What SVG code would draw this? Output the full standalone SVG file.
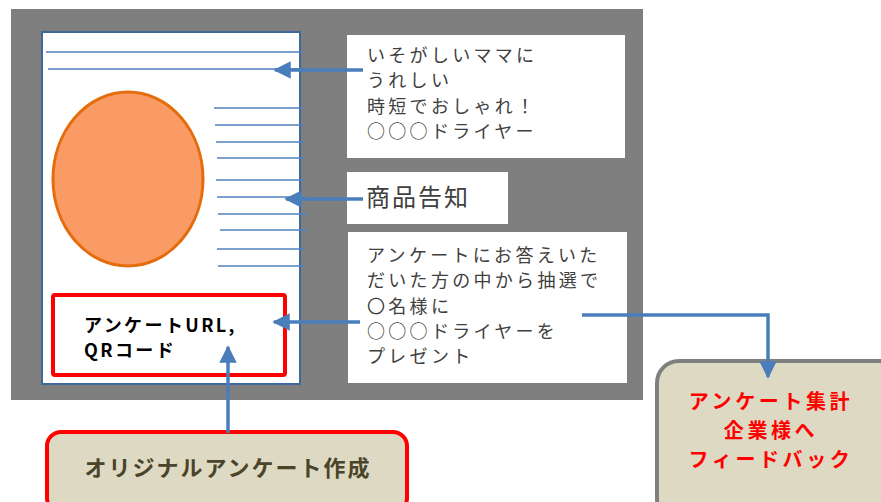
<svg xmlns="http://www.w3.org/2000/svg" width="881" height="502" viewBox="0 0 881 502">
<defs>
<style>
.jp{font-family:"Noto Sans CJK JP","Noto Sans",sans-serif}
.body{font-size:18px;fill:#404040;letter-spacing:3.3px}
.pl{stroke:#4F81BD;stroke-width:1.5}
.conn{stroke:#4A7EBB;stroke-width:3.5;fill:none}
.box{fill:#FFFFFF}
</style>
<marker id="ah" viewBox="0 0 10 10" refX="9" refY="5" markerWidth="5" markerHeight="5" markerUnits="strokeWidth" orient="auto">
<path d="M0,0 L10,5 L0,10 Z" fill="#4A7EBB"/>
</marker>
</defs>
<rect id="background" x="11" y="9" width="632" height="391" fill="#7F7F7F"/>
<g id="page">
<rect x="42" y="32" width="258" height="352" fill="#FFFFFF" stroke="#41689C" stroke-width="2"/>
<line class="pl" x1="46" y1="52" x2="303" y2="52"/>
<line class="pl" x1="48" y1="69" x2="303" y2="69"/>
<line class="pl" x1="214" y1="108" x2="303" y2="108"/>
<line class="pl" x1="215" y1="125" x2="303" y2="125"/>
<line class="pl" x1="216" y1="142" x2="305" y2="142"/>
<line class="pl" x1="217" y1="158" x2="305" y2="158"/>
<line class="pl" x1="216" y1="180" x2="305" y2="180"/>
<line class="pl" x1="217" y1="197" x2="305" y2="197"/>
<line class="pl" x1="218" y1="214" x2="307" y2="214"/>
<line class="pl" x1="220" y1="230" x2="307" y2="230"/>
<line class="pl" x1="217" y1="249" x2="305" y2="249"/>
<line class="pl" x1="218" y1="266" x2="305" y2="266"/>
</g>
<g id="image">
<ellipse cx="128" cy="179" rx="75" ry="87" fill="#FA9A65" stroke="#E46C0A" stroke-width="3"/>
</g>
<g id="url-box">
<rect x="53" y="295" width="232" height="80" fill="#FFFFFF" stroke="#FF0000" stroke-width="4" rx="2"/>
<text class="jp" font-size="18" font-weight="bold" fill="#000000" letter-spacing="2.4"><tspan x="84" y="332">アンケートURL,</tspan><tspan x="84" y="357">QRコード</tspan></text>
</g>
<g id="catch-box">
<rect class="box" x="347" y="35" width="278" height="123"/>
<text class="jp body"><tspan x="367" y="62">いそがしいママに</tspan><tspan x="367" y="87">うれしい</tspan><tspan x="367" y="113">時短でおしゃれ！</tspan><tspan x="367" y="138">○○○ドライヤー</tspan></text>
</g>
<g id="notice-box">
<rect class="box" x="347" y="172" width="161" height="52"/>
<text class="jp" x="366" y="206" font-size="24" fill="#404040" letter-spacing="2">商品告知</text>
</g>
<g id="present-box">
<rect class="box" x="348" y="232" width="279" height="151"/>
<text class="jp body"><tspan x="367" y="262">アンケートにお答えいた</tspan><tspan x="367" y="287">だいた方の中から抽選で</tspan><tspan x="367" y="313">〇名様に</tspan><tspan x="367" y="338">○○○ドライヤーを</tspan><tspan x="367" y="363">プレゼント</tspan></text>
</g>
<g id="create-box">
<rect x="47" y="432" width="360" height="80" rx="14" fill="#DDD9C3" stroke="#FF0000" stroke-width="4"/>
<text class="jp" x="228" y="476" font-size="22" font-weight="bold" fill="#4A442A" text-anchor="middle" letter-spacing="2">オリジナルアンケート作成</text>
</g>
<g id="feedback-box">
<rect x="657" y="361" width="250" height="160" rx="22" fill="#DDD9C3" stroke="#7F7F7F" stroke-width="4"/>
<text class="jp" font-size="20" font-weight="bold" fill="#FF0000" text-anchor="middle" letter-spacing="3.6"><tspan x="771" y="409">アンケート集計</tspan><tspan x="771" y="438">企業様へ</tspan><tspan x="771" y="467">フィードバック</tspan></text>
</g>
<g id="connectors">
<line class="conn" x1="363" y1="70" x2="275" y2="70" marker-end="url(#ah)"/>
<line class="conn" x1="363" y1="199" x2="286" y2="199" marker-end="url(#ah)"/>
<line class="conn" x1="360" y1="322" x2="274" y2="322" marker-end="url(#ah)"/>
<line class="conn" x1="228" y1="433" x2="228" y2="347" marker-end="url(#ah)"/>
<polyline class="conn" points="582,315 768,315 768,377" marker-end="url(#ah)"/>
</g>
</svg>
